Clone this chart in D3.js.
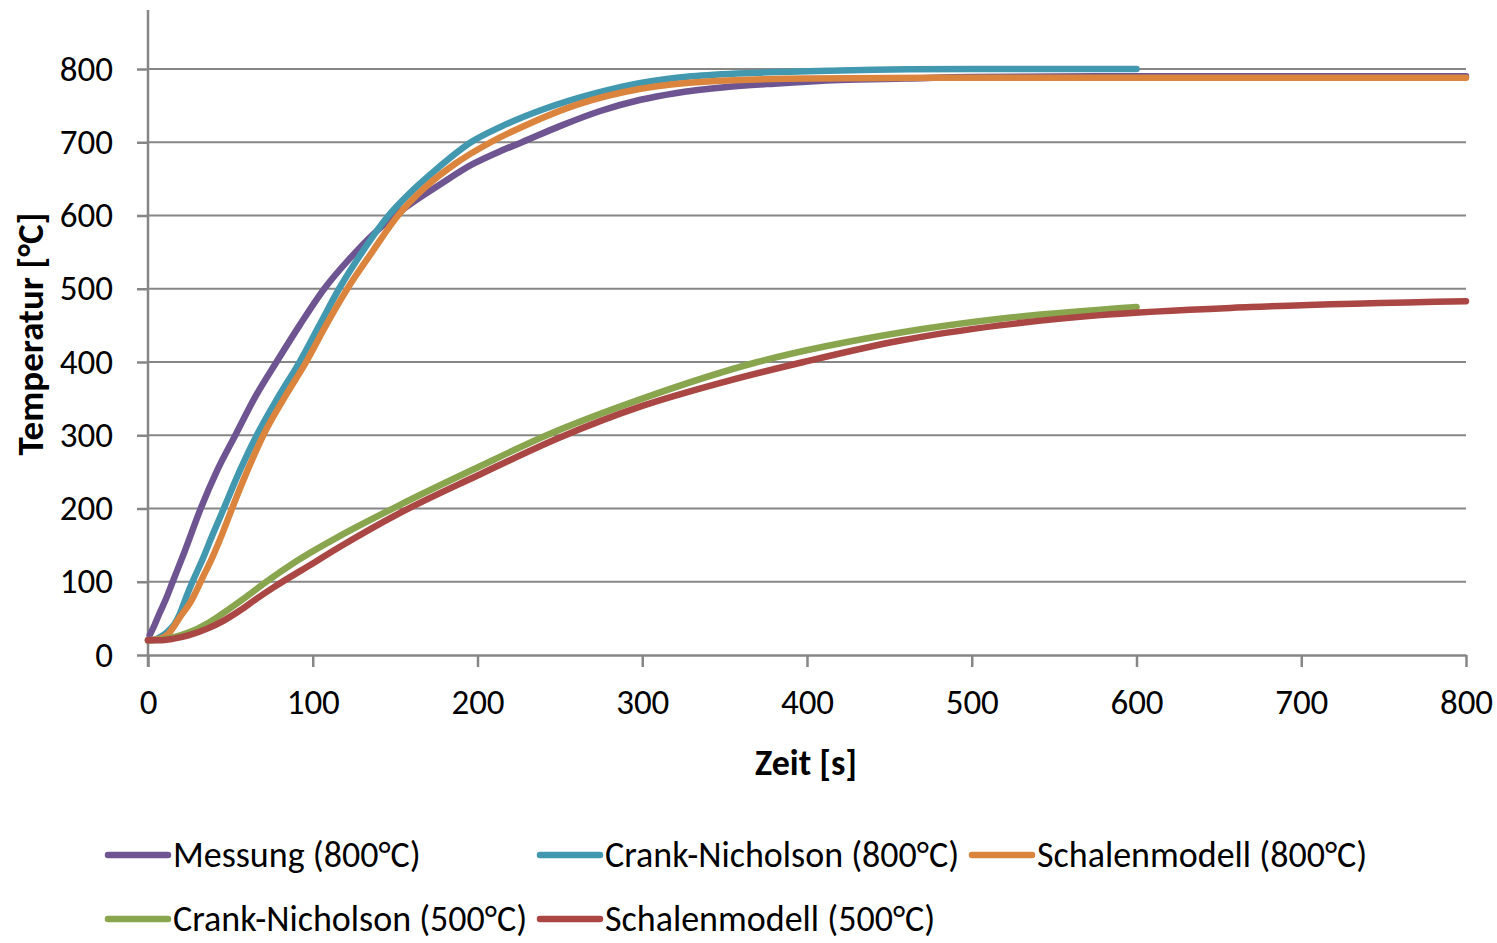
<!DOCTYPE html>
<html lang="de">
<head>
<meta charset="UTF-8">
<title>Temperaturverlauf</title>
<script src="https://d3js.org/d3.v7.min.js"></script>
<style>
  body { margin: 0; background: #fff; }
  svg text { font-family: Carlito, Calibri, Lato, "Liberation Sans", sans-serif; fill: #000; }
  .grid line { stroke: #868686; stroke-width: 2; }
  .axis path, .axis line { stroke: #868686; stroke-width: 2.5; }
  .series { fill: none; stroke-width: 6.5; stroke-linecap: round; stroke-linejoin: round; }
</style>
</head>
<body>
<svg width="1497" height="943"></svg>
<script>
// [Zeit s, Temperatur °C]
const messung800 = [[1,27],[4,41],[7,57],[11,77],[15,100],[22,140],[32,200],[42,252],[53,300],[65,352],[78,400],
  [92,450],[107,500],[122,540],[137,575],[157,612],[177,642],[197,670],[214,688],[227,700],[250,722],[275,743],
  [299,758],[320,767],[350,775],[380,780],[420,785],[460,787],[500,789],[600,790],[700,790],[800,790]];
const crank800 = [[0,20],[4,21],[7,24],[12,32],[16,42],[19.5,57],[22.5,75],[28,105],[33,130],[39,163],[46,200],
  [56,253],[66,300],[79,352],[92,400],[104,450],[116,500],[130,550],[146,600],[160,633],[176,665],[196,700],
  [214,721],[240,745],[270,766],[299,781],[330,790],[370,795],[420,798],[500,800],[600,800]];
const schalen800 = [[0,20],[7,22],[12,28],[19.5,52],[26.5,75],[33,105],[39,133],[45,165],[51,200],[60,250],
  [70,300],[83,352],[96,400],[108,450],[121,500],[136,550],[151,598],[168,638],[186,670],[208,700],[230,724],
  [260,751],[299,773],[340,783],[400,787],[500,788],[600,788],[700,788],[800,788]];
const crank500 = [[0,20],[7,21],[15,24],[25,31],[36,43],[50,64],[60,80],[70,97],[90,128],[116,162],[153,205],
  [200,256],[242,300],[300,350],[370,400],[456,440],[517,459],[600,475]];
const schalen500 = [[0,20],[7,20],[15,22],[25,27],[36,36],[46,47],[56,61],[66,77],[76,92],[100,125],[116,147],
  [153,194],[200,245],[250,297],[300,340],[350,373],[398,400],[456,429],[517,450],[578,464],[669,475],[800,483]];

const seriesNames = ["Messung (800°C)", "Crank-Nicholson (800°C)", "Schalenmodell (800°C)",
  "Crank-Nicholson (500°C)", "Schalenmodell (500°C)"];
const seriesData = [messung800, crank800, schalen800, crank500, schalen500];
const seriesColors = ["#6E5591", "#4198AF", "#DB843D", "#89A54E", "#AA4643"];
const xTicks = [0, 100, 200, 300, 400, 500, 600, 700, 800];
const yTicks = [0, 100, 200, 300, 400, 500, 600, 700, 800];

const svg = d3.select("svg");
const plotLeft = 148, plotRight = 1466, plotBottom = 655, plotTop = 10;
const fontSize = "35px";

const x = d3.scaleLinear().domain([0, 800]).range([plotLeft, plotRight]);
// 800 °C liegt bei y=69, Achse läuft bis ganz oben
const y = d3.scaleLinear().domain([0, 800]).range([plotBottom, 69]);

// gridlines
svg.append("g").attr("class", "grid")
  .selectAll("line").data(yTicks.slice(1)).enter().append("line")
  .attr("x1", plotLeft).attr("x2", plotRight)
  .attr("y1", d => y(d)).attr("y2", d => y(d));

// y axis
const yAxis = svg.append("g").attr("class", "axis")
  .attr("transform", `translate(${plotLeft},0)`)
  .call(d3.axisLeft(y).tickValues(yTicks).tickSize(11).tickSizeOuter(0).tickPadding(24));
yAxis.select(".domain").remove();
yAxis.append("line").attr("x1", 0).attr("x2", 0).attr("y1", plotTop).attr("y2", plotBottom + 12)
  .attr("stroke", "#868686").attr("stroke-width", 2.5);
yAxis.selectAll("text").style("font-size", fontSize);

// x axis
const xAxis = svg.append("g").attr("class", "axis")
  .attr("transform", `translate(0,${plotBottom})`)
  .call(d3.axisBottom(x).tickValues(xTicks).tickSize(12).tickSizeOuter(0).tickPadding(22));
xAxis.selectAll("text").style("font-size", fontSize);

// lines
const line = d3.line().x(d => x(d[0])).y(d => y(d[1])).curve(d3.curveMonotoneX);
svg.append("g").selectAll("path").data(seriesData).enter().append("path")
  .attr("class", "series")
  .attr("stroke", (d, i) => seriesColors[i])
  .attr("d", line);

// axis titles
svg.append("text").attr("x", 806).attr("y", 763).attr("text-anchor", "middle")
  .attr("dominant-baseline", "central")
  .style("font-size", "36px").style("font-weight", "bold").text("Zeit [s]");
svg.append("text").attr("transform", "translate(30,334) rotate(-90)").attr("text-anchor", "middle")
  .attr("dominant-baseline", "central")
  .style("font-size", "37px").style("font-weight", "bold").text("Temperatur [°C]");

// legend
const legendPos = [[108, 855], [540, 855], [972, 855], [108, 919], [540, 919]];
const legend = svg.append("g").selectAll("g").data(seriesNames).enter().append("g")
  .attr("transform", (d, i) => `translate(${legendPos[i][0]},${legendPos[i][1]})`);
legend.append("line").attr("x1", 0).attr("x2", 60).attr("y1", 0).attr("y2", 0)
  .attr("stroke", (d, i) => seriesColors[i]).attr("stroke-width", 6.5).attr("stroke-linecap", "round");
legend.append("text").attr("x", 65).attr("y", 0).attr("dominant-baseline", "central")
  .style("font-size", "36px").text(d => d);
</script>
</body>
</html>
